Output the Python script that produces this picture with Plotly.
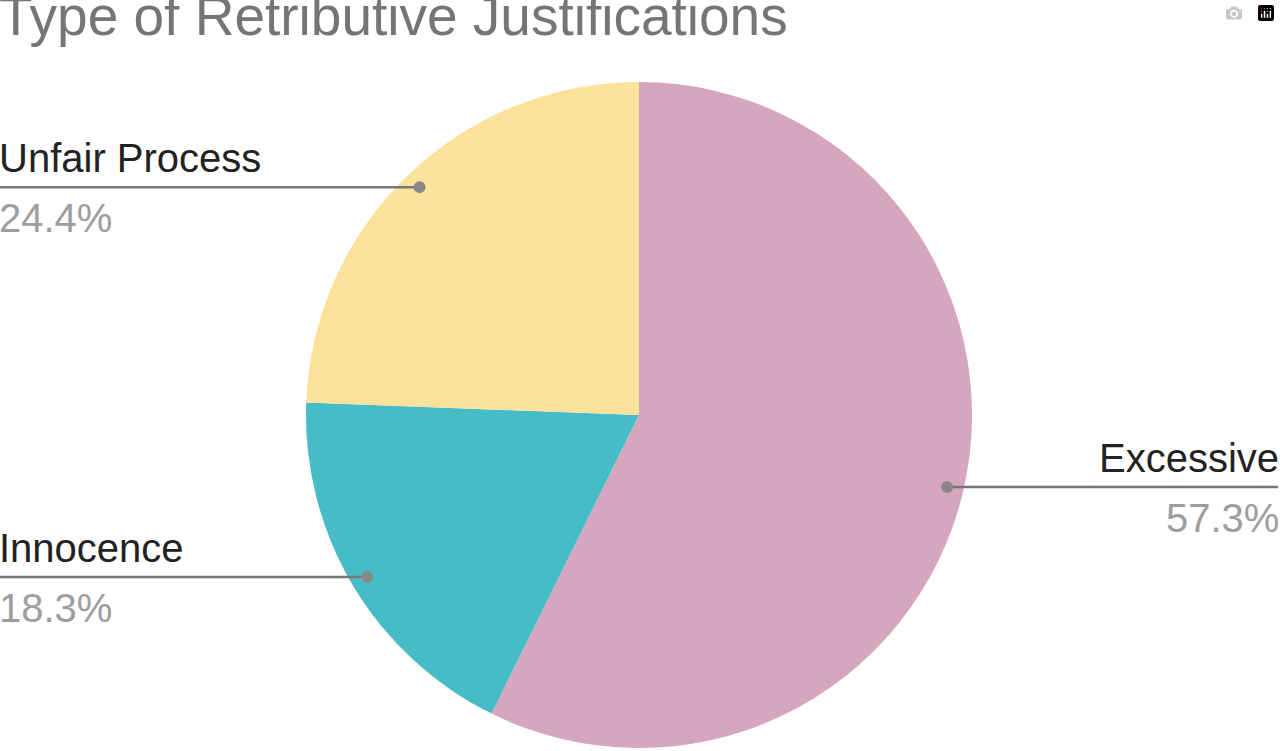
import plotly.graph_objects as go
import math

labels = ["Excessive", "Innocence", "Unfair Process"]
values = [57.3, 18.3, 24.4]
colors = ["#D5A6BD", "#46BDC6", "#FCE29A"]

W, H = 1280, 751
cx, cy, R = 639, 415, 333

fig = go.Figure(go.Pie(
    labels=labels, values=values, sort=False, direction="clockwise", rotation=0,
    marker=dict(colors=colors, line=dict(width=0)), textinfo="none",
    hoverinfo="label+percent", showlegend=False,
    domain=dict(x=[(cx - R) / W, (cx + R) / W], y=[(H - cy - R) / H, (H - cy + R) / H]),
))

def px(x): return x / W
def py(y): return 1 - y / H

shapes, annots = [], []
total = sum(values)
cum = 0
for lab, v in zip(labels, values):
    mid = (cum + v / 2) / total * 2 * math.pi
    cum += v
    dx, dy = cx + 0.95 * R * math.sin(mid), cy - 0.95 * R * math.cos(mid)
    right = math.sin(mid) > 0
    xe = 1278 if right else 0
    shapes.append(dict(type="line", xref="paper", yref="paper", x0=px(dx), y0=py(dy), x1=px(xe), y1=py(dy),
                       line=dict(color="#777777", width=2.5)))
    shapes.append(dict(type="circle", xref="paper", yref="paper", x0=px(dx - 6), x1=px(dx + 6),
                       y0=py(dy - 6), y1=py(dy + 6), fillcolor="#888888", line=dict(width=0)))
    anchor = "right" if right else "left"
    annots.append(dict(x=px(xe), y=py(dy - 29), xref="paper", yref="paper", text=lab, showarrow=False,
                       xanchor=anchor, yanchor="middle", borderpad=0, xshift=(2 if right else -2),
                       font=dict(size=40, color="#222222")))
    annots.append(dict(x=px(xe), y=py(dy + 31), xref="paper", yref="paper", text=f"{v:.1f}%", showarrow=False,
                       xanchor=anchor, yanchor="middle", borderpad=0, xshift=(2 if right else -2),
                       font=dict(size=40, color="#9E9E9E")))

annots.append(dict(x=0, y=py(16), xref="paper", yref="paper", text="Type of Retributive Justifications",
                   showarrow=False, xanchor="left", yanchor="middle", borderpad=0, xshift=-2,
                   font=dict(size=55, color="#757575")))

fig.update_layout(width=W, height=H, margin=dict(l=0, r=0, t=0, b=0), paper_bgcolor="white",
                  font=dict(family="Liberation Sans, Arial, sans-serif"), shapes=shapes, annotations=annots)
fig.write_html("out.html", post_script="document.body.style.margin='0';document.body.style.overflow='hidden';")
